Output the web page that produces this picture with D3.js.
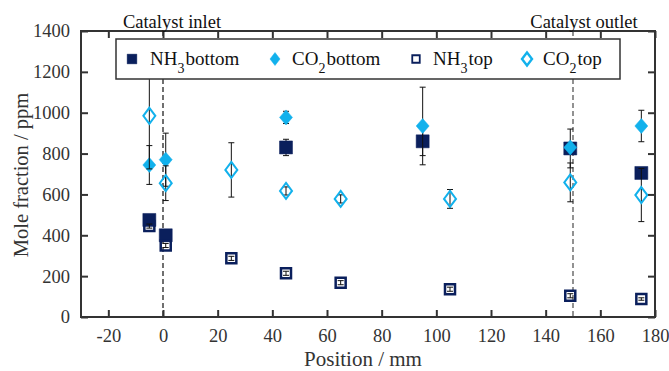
<!doctype html>
<html>
<head>
<meta charset="UTF-8">
<script src="https://d3js.org/d3.v7.min.js"></script>
<style>
  body { margin: 0; background: #fff; }
  svg { font-family: "Liberation Serif", "DejaVu Serif", serif; }
</style>
</head>
<body>
<script>
// data
var xTicks = [-20, 0, 20, 40, 60, 80, 100, 120, 140, 160, 180];
var yTicks = [0, 200, 400, 600, 800, 1000, 1200, 1400];

var nh3BottomX = [-5, 1, 45, 95, 149, 175];
var nh3BottomY = [475, 400, 830, 860, 825, 705];
var nh3BottomE = [15, 20, 40, 70, 95, 15];

var co2BottomX = [-5, 1, 45, 95, 149, 175];
var co2BottomY = [744, 770, 977, 935, 830, 935];
var co2BottomE = [95, 130, 30, 190, 20, 77];

var nh3TopX = [-5, 1, 25, 45, 65, 105, 149, 175];
var nh3TopY = [445, 350, 287, 214, 168, 136, 104, 88];
var nh3TopE = [10, 10, 10, 10, 10, 10, 10, 6];

var co2TopX = [-5, 1, 25, 45, 65, 105, 149, 175];
var co2TopY = [985, 655, 720, 617, 578, 578, 659, 597];
var co2TopE = [260, 85, 133, 20, 20, 46, 95, 130];

var navy = '#0a1f5c';
var cyan = '#12b1ec';
var ink = '#333';
var serif = '"Liberation Serif", "DejaVu Serif", serif';

var width = 669, height = 371;
var svg = d3.select('body').append('svg')
    .attr('width', width)
    .attr('height', height);

var x = d3.scaleLinear().domain([-30, 180]).range([81, 655]);
var y = d3.scaleLinear().domain([0, 1400]).range([317, 31]);

function pack(xs, ys, es) {
    return xs.map(function(d, i){ return {x: d, y: ys[i], e: es[i]}; });
}

// dashed catalyst lines
svg.append('line')
    .attr('x1', x(0)).attr('x2', x(0))
    .attr('y1', y(1400)).attr('y2', y(0))
    .attr('stroke', '#111').attr('stroke-width', 1.2)
    .attr('stroke-dasharray', '5,3');
svg.append('line')
    .attr('x1', x(150)).attr('x2', x(150))
    .attr('y1', y(1400)).attr('y2', y(0))
    .attr('stroke', '#777').attr('stroke-width', 1.6)
    .attr('stroke-dasharray', '5,3');

var series = [
    {data: pack(nh3BottomX, nh3BottomY, nh3BottomE), shape: 'square', filled: true, color: navy},
    {data: pack(co2BottomX, co2BottomY, co2BottomE), shape: 'diamond', filled: true, color: cyan},
    {data: pack(nh3TopX, nh3TopY, nh3TopE), shape: 'square', filled: false, color: navy},
    {data: pack(co2TopX, co2TopY, co2TopE), shape: 'diamond', filled: false, color: cyan}
];

function markerPath(shape, filled, small) {
    if (shape === 'square') {
        var h = filled ? 6.5 : 5;
        return 'M' + (-h) + ',' + (-h) + 'H' + h + 'V' + h + 'H' + (-h) + 'Z';
    }
    var w = filled ? 6.5 : 6, hh = filled ? 7.5 : 8;
    if (small) { w = 5; hh = 6.5; }
    return 'M0,' + (-hh) + 'L' + w + ',0L0,' + hh + 'L' + (-w) + ',0Z';
}

var plot = svg.append('g');

series.forEach(function(s) {
    var g = plot.append('g');
    var eb = g.selectAll('.eb').data(s.data).enter().append('g')
        .attr('stroke', '#111').attr('stroke-width', 1);
    eb.append('line')
        .attr('x1', function(d){ return x(d.x); })
        .attr('x2', function(d){ return x(d.x); })
        .attr('y1', function(d){ return y(d.y - d.e); })
        .attr('y2', function(d){ return y(d.y + d.e); });
    eb.append('line')
        .attr('x1', function(d){ return x(d.x) - 3; })
        .attr('x2', function(d){ return x(d.x) + 3; })
        .attr('y1', function(d){ return y(d.y - d.e); })
        .attr('y2', function(d){ return y(d.y - d.e); });
    eb.append('line')
        .attr('x1', function(d){ return x(d.x) - 3; })
        .attr('x2', function(d){ return x(d.x) + 3; })
        .attr('y1', function(d){ return y(d.y + d.e); })
        .attr('y2', function(d){ return y(d.y + d.e); });

    g.selectAll('.m').data(s.data).enter().append('path')
        .attr('transform', function(d){ return 'translate(' + x(d.x) + ',' + y(d.y) + ')'; })
        .attr('d', markerPath(s.shape, s.filled))
        .attr('fill', s.filled ? s.color : 'none')
        .attr('stroke', s.color)
        .attr('stroke-width', s.filled ? 0.5 : (s.shape === 'square' ? 2.5 : 2));
});

// axes with inward ticks on all sides
var fontSize = 18.5;
var fmt = function(d){ return String(d); };
var axB = d3.axisBottom(x).tickValues(xTicks).tickSize(-7).tickPadding(12).tickFormat(fmt);
var axT = d3.axisTop(x).tickValues(xTicks).tickSize(-7).tickFormat('');
var axL = d3.axisLeft(y).tickValues(yTicks).tickSize(-7).tickPadding(11).tickFormat(fmt);
var axR = d3.axisRight(y).tickValues(yTicks).tickSize(-7).tickFormat('');

function style(g) {
    g.attr('font-family', serif).attr('font-size', fontSize);
    g.select('.domain').remove();
    g.selectAll('line').attr('stroke', ink).attr('stroke-width', 2);
    g.selectAll('text').attr('fill', ink);
}
svg.append('g').attr('transform', 'translate(0,317)').call(axB).call(style);
svg.append('g').attr('transform', 'translate(0,31)').call(axT).call(style);
svg.append('g').attr('transform', 'translate(81,0)').call(axL).call(style);
svg.append('g').attr('transform', 'translate(655,0)').call(axR).call(style);

svg.append('rect')
    .attr('x', 81).attr('y', 31)
    .attr('width', 655 - 81).attr('height', 317 - 31)
    .attr('fill', 'none').attr('stroke', ink).attr('stroke-width', 2);

// legend
var legend = svg.append('g');
legend.append('rect')
    .attr('x', 116).attr('y', 39).attr('width', 504).attr('height', 40)
    .attr('fill', '#fff').attr('stroke', ink).attr('stroke-width', 1.5);

var legendItems = [
    {mx: 132, tx: 150, chem: 'NH', sub: '3', word: 'bottom', s: series[0]},
    {mx: 275, tx: 292, chem: 'CO', sub: '2', word: 'bottom', s: series[1]},
    {mx: 416, tx: 433, chem: 'NH', sub: '3', word: 'top', s: series[2]},
    {mx: 527, tx: 543, chem: 'CO', sub: '2', word: 'top', s: series[3]}
];
legendItems.forEach(function(it) {
    var sq = it.s.shape === 'square';
    legend.append('path')
        .attr('transform', 'translate(' + it.mx + ',59)' + (sq ? ' scale(0.75)' : ''))
        .attr('d', markerPath(it.s.shape, it.s.filled, true))
        .attr('fill', it.s.filled ? it.s.color : 'none')
        .attr('stroke', it.s.color)
        .attr('stroke-width', it.s.filled ? 0.5 : 2.4);
    var t = legend.append('text')
        .attr('x', it.tx).attr('y', 65)
        .attr('font-size', 19).attr('fill', '#111');
    t.append('tspan').text(it.chem);
    t.append('tspan').attr('dy', 8).attr('font-size', 14).text(it.sub);
    t.append('tspan').attr('dy', -8).attr('dx', 1).text(it.word);
});

// annotations
svg.append('text').attr('x', x(0) + 9).attr('y', 28)
    .attr('text-anchor', 'middle').attr('font-size', 18.5).attr('fill', '#111')
    .text('Catalyst inlet');
svg.append('text').attr('x', x(150) + 11).attr('y', 28)
    .attr('text-anchor', 'middle').attr('font-size', 18.5).attr('fill', '#111')
    .text('Catalyst outlet');

svg.append('text')
    .attr('x', 363).attr('y', 366)
    .attr('text-anchor', 'middle').attr('font-size', 21).attr('fill', ink)
    .text('Position / mm');
svg.append('text')
    .attr('transform', 'translate(28,175) rotate(-90)')
    .attr('text-anchor', 'middle').attr('font-size', 20.5).attr('fill', ink)
    .text('Mole fraction / ppm');
</script>
</body>
</html>
